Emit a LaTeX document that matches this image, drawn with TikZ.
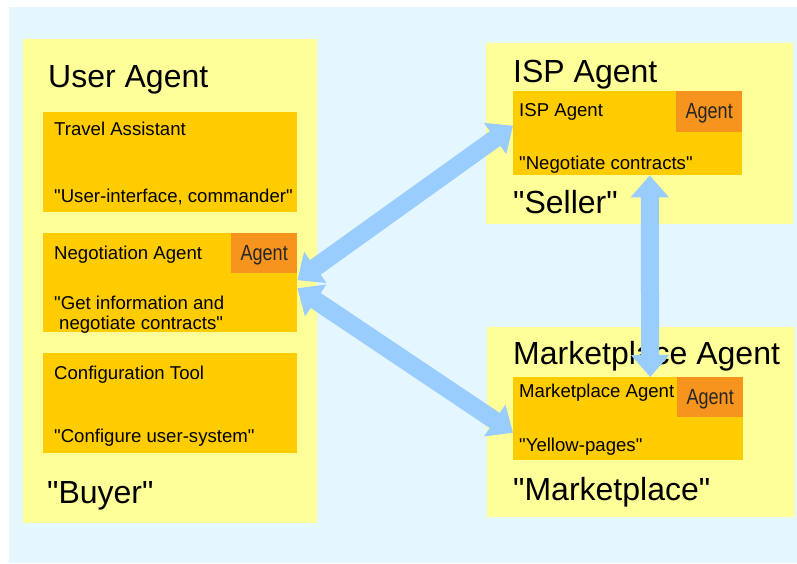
\documentclass[tikz,border=0pt]{standalone}
\usepackage{fontspec}
\setmainfont{Liberation Sans}
\usetikzlibrary{arrows.meta}
\definecolor{skyback}{HTML}{E4F6FE}
\definecolor{paleyel}{HTML}{FFFF99}
\definecolor{gold}{HTML}{FFCC00}
\definecolor{tagorange}{HTML}{F7941D}
\definecolor{linkblue}{HTML}{99CCFF}
\newcommand{\bigfont}{\fontsize{32}{38}\selectfont}
\newcommand{\midfont}{\fontsize{18.6}{20}\selectfont}
\newcommand{\dq}{\XeTeXglyph\XeTeXglyphindex "quotedbl"\relax}
\newcommand{\tagtext}{\scalebox{0.82}[1]{Agent}}
\tikzset{panel/.style={fill=paleyel,anchor=north west,inner sep=0pt},
  role/.style={fill=gold,anchor=north west,inner sep=0pt},
  tag/.style={fill=tagorange,anchor=north east,inner sep=0pt,minimum width=66pt,minimum height=40pt,text height=17pt,text depth=3pt,text=black!85,font=\fontsize{22}{24}\selectfont},
  title/.style={anchor=base west,inner sep=0pt,font=\bigfont},
  txt/.style={anchor=base west,inner sep=0pt,font=\midfont,align=left},
  link/.style={draw=linkblue,line width=18pt,{Triangle[width=37pt,length=22pt]}-{Triangle[width=37pt,length=22pt]}}}
\begin{document}
\begin{tikzpicture}[x=1pt,y=-1pt]
    \useasboundingbox (0,0) rectangle (797,563);
    \fill[skyback] (9,7) rectangle (797,563);

    \node[panel,minimum width=294pt,minimum height=484pt] (user) at (23,39) {};
    \node[panel,minimum width=307pt,minimum height=181pt] (isp) at (486,43) {};
    \node[panel,minimum width=308pt,minimum height=190pt] (mkt) at (487,327) {};

    \node[role,minimum width=254pt,minimum height=100pt] (travel) at (43,112) {};
    \node[role,minimum width=254pt,minimum height=99pt] (nego) at (43,233) {};
    \node[role,minimum width=254pt,minimum height=100pt] (config) at (43,353) {};
    \node[role,minimum width=229pt,minimum height=84pt] (ispbox) at (513,91) {};
    \node[role,minimum width=230pt,minimum height=83pt] (mktbox) at (513,377) {};

    \node[tag] (negotag) at (nego.north east) {\tagtext};
    \node[tag,minimum height=41pt] (isptag) at (ispbox.north east) {\tagtext};
    \node[tag] (mkttag) at (mktbox.north east) {\tagtext};

    \node[title] (usertitle) at (48,87) {User Agent};
    \node[txt] (traveltxt) at (54,135) {Travel Assistant};
    \node[txt] (travelrole) at (54,202) {\dq User-interface, commander\dq};
    \node[txt] (negotxt) at (54,259) {Negotiation Agent};
    \node[txt] (negorole) at (54,329) {\dq Get information and\\\hspace{5pt}negotiate contracts\dq};
    \node[txt] (configtxt) at (54,379) {Configuration Tool};
    \node[txt] (configrole) at (54,442) {\dq Configure user-system\dq};
    \node[title] (buyer) at (47,503) {\dq Buyer\dq};

    \node[title] (isptitle) at (513,82) {ISP Agent};
    \node[txt] (isptxt) at (519,116) {ISP Agent};
    \node[txt] (isprole) at (519,169) {\dq Negotiate contracts\dq};
    \node[title] (seller) at (513,213) {\dq Seller\dq};

    \node[title] (mkttitle) at (513,364) {Marketplace Agent};
    \node[txt] (mkttxt) at (519,397) {Marketplace Agent};
    \node[txt] (mktrole) at (519,451) {\dq Yellow-pages\dq};
    \node[title] (market) at (513,500) {\dq Marketplace\dq};

    \draw [link] ([yshift=2.5pt]nego.east) to ([yshift=7.5pt]ispbox.west);
    \draw [link] ([yshift=-5.5pt]nego.east) to ([yshift=-14pt]mktbox.west);
    \draw [link] ([xshift=22pt]ispbox.south) to ([xshift=22pt]mktbox.north);
\end{tikzpicture}
\end{document}
